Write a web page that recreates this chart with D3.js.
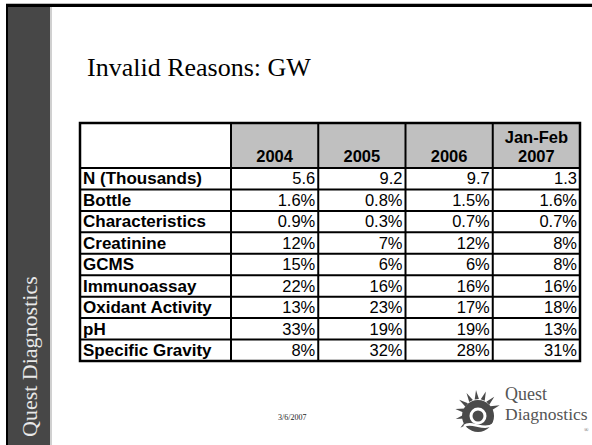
<!DOCTYPE html>
<html><head><meta charset="utf-8">
<script src="https://cdn.jsdelivr.net/npm/d3@7"></script>
<style>html,body{margin:0;padding:0;background:#fff;}svg{display:block;}</style>
</head><body>
<svg id="c" width="592" height="445"></svg>
<script>
const title = "Invalid Reasons: GW";
const periods = ["2004", "2005", "2006", "Jan-Feb 2007"];
const reasons = ["N (Thousands)", "Bottle", "Characteristics", "Creatinine", "GCMS", "Immunoassay", "Oxidant Activity", "pH", "Specific Gravity"];
const decimals = [1, 1, 1, 0, 0, 0, 0, 0, 0];
const isPercent = [false, true, true, true, true, true, true, true, true];
const values2004 = [5.6, 1.6, 0.9, 12, 15, 22, 13, 33, 8];
const values2005 = [9.2, 0.8, 0.3, 7, 6, 16, 23, 19, 32];
const values2006 = [9.7, 1.5, 0.7, 12, 6, 16, 17, 19, 28];
const valuesJanFeb2007 = [1.3, 1.6, 0.7, 8, 8, 16, 18, 13, 31];
const footerDate = "3/6/2007";
const brand = "Quest Diagnostics";

const columns = [values2004, values2005, values2006, valuesJanFeb2007];
const svg = d3.select("#c");
const serif = "Liberation Serif, Times New Roman, serif";

// slide frame
svg.append("rect").attr("x", 6).attr("y", 3).attr("width", 586).attr("height", 1).attr("fill", "#bbb");
svg.append("rect").attr("x", 6).attr("y", 4).attr("width", 586).attr("height", 3).attr("fill", "#000");
svg.append("rect").attr("x", 6).attr("y", 4).attr("width", 2).attr("height", 441).attr("fill", "#000");
svg.append("rect").attr("x", 8).attr("y", 7).attr("width", 42).attr("height", 438).attr("fill", "#474747");
svg.append("rect").attr("x", 50).attr("y", 7).attr("width", 2).attr("height", 438).attr("fill", "#d0d0d0");
svg.append("text").attr("transform", "translate(37,437) rotate(-90)")
  .attr("font-family", serif).attr("font-size", 22)
  .attr("fill", "#e8e8e8").text(brand);

// title
svg.append("text").attr("x", 87).attr("y", 76)
  .attr("font-family", serif).attr("font-size", 26)
  .attr("fill", "#000").text(title);

// table geometry via scales
const tableLeft = 80, labelRight = 231, tableRight = 580;
const headTop = 123, headBottom = 168, tableBottom = 361;
const xCol = d3.scaleBand().domain(periods).range([labelRight, tableRight]);
const yRow = d3.scaleBand().domain(reasons).range([headBottom, tableBottom]);
const fontT = "Liberation Sans, Arial, sans-serif";

const g = svg.append("g");
g.selectAll("rect.h").data(periods).join("rect").attr("class", "h")
  .attr("x", d => xCol(d)).attr("y", headTop).attr("width", xCol.bandwidth()).attr("height", headBottom - headTop)
  .attr("fill", "#c0c0c0");
g.selectAll("text.h").data(periods).join("text").attr("class", "h")
  .attr("font-family", fontT).attr("font-weight", "bold").attr("font-size", 16.5)
  .attr("text-anchor", "middle")
  .each(function(d) {
    const parts = d === "Jan-Feb 2007" ? ["Jan-Feb", "2007"] : [d];
    const t = d3.select(this);
    parts.forEach((p, i) => {
      t.append("tspan").attr("x", xCol(d) + xCol.bandwidth() / 2)
        .attr("y", headBottom - 6 - (parts.length - 1 - i) * 19).text(p);
    });
  });

// row labels
g.selectAll("text.r").data(reasons).join("text").attr("class", "r")
  .attr("x", tableLeft + 3).attr("y", d => yRow(d) + yRow.bandwidth() - 5)
  .attr("font-family", fontT).attr("font-weight", "bold").attr("font-size", 17)
  .text(d => d);

// values
periods.forEach((p, ci) => {
  g.selectAll("text.v" + ci).data(columns[ci]).join("text").attr("class", "v" + ci)
    .attr("x", xCol(p) + xCol.bandwidth() - 3)
    .attr("y", (d, i) => yRow(reasons[i]) + yRow.bandwidth() - 5)
    .attr("text-anchor", "end").attr("font-family", fontT).attr("font-size", 16.5)
    .text((d, i) => d.toFixed(decimals[i]) + (isPercent[i] ? "%" : ""));
});

// grid lines
[headBottom].concat(reasons.slice(1).map(r => yRow(r))).forEach(y => {
  g.append("line").attr("x1", tableLeft).attr("x2", tableRight).attr("y1", y).attr("y2", y)
    .attr("stroke", "#000").attr("stroke-width", 2);
});
[labelRight].concat(periods.slice(1).map(p => xCol(p))).forEach(x => {
  g.append("line").attr("x1", x).attr("x2", x).attr("y1", headTop).attr("y2", tableBottom)
    .attr("stroke", "#000").attr("stroke-width", 2);
});
g.append("rect").attr("x", tableLeft).attr("y", headTop).attr("width", tableRight - tableLeft)
  .attr("height", tableBottom - headTop).attr("fill", "none").attr("stroke", "#000").attr("stroke-width", 2.5);

// footer date
svg.append("text").attr("x", 278).attr("y", 420).attr("font-family", serif)
  .attr("font-size", 8).attr("fill", "#222").text(footerDate);

// logo
const logo = svg.append("g").attr("transform", "translate(478,413)");
const rays = d3.range(9).map(i => -220 + i * 25);
logo.selectAll("path.ray").data(rays).join("path").attr("class", "ray")
  .attr("d", a => {
    const r = a * Math.PI / 180, w = 0.15;
    return "M" + [Math.cos(r - w) * 14, Math.sin(r - w) * 14] + "L" + [Math.cos(r) * 23, Math.sin(r) * 23] + "L" + [Math.cos(r + w) * 14, Math.sin(r + w) * 14] + "Z";
  }).attr("fill", "#4a4a4a");
logo.append("circle").attr("r", 16).attr("cy", 3).attr("fill", "#4a4a4a");
logo.append("circle").attr("r", 8.5).attr("cy", 3).attr("fill", "#fff");
logo.append("circle").attr("r", 5.5).attr("cy", 3).attr("fill", "#4a4a4a");
logo.append("path").attr("d", "M-14,13 C-6,7 5,19 16,11").attr("stroke", "#fff").attr("stroke-width", 2.5).attr("fill", "none");
svg.append("text").attr("x", 505).attr("y", 400).attr("font-family", serif)
  .attr("font-size", 18).attr("fill", "#555").text("Quest");
svg.append("text").attr("x", 505).attr("y", 420).attr("font-family", serif)
  .attr("font-size", 17.5).attr("fill", "#555").text("Diagnostics");
svg.append("text").attr("x", 584).attr("y", 432).attr("font-family", serif)
  .attr("font-size", 6).attr("fill", "#555").text("®");
</script>
</body></html>
